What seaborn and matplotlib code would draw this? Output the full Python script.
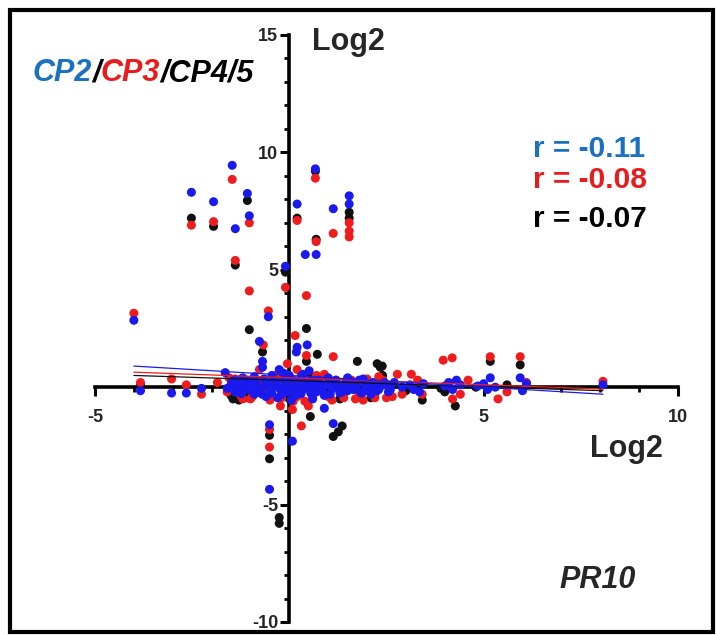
import pandas as pd
import seaborn as sns
import matplotlib.pyplot as plt
from matplotlib.patches import Rectangle
from matplotlib.ticker import MultipleLocator, FixedLocator

# CP2 (blue) log2 values
cp2_x = [-4.0, -3.83, -3.03, -2.65, -2.26, -1.65,
         -2.52, -1.95, -1.47, -1.39, -1.08, -1.03, -0.1, 0.2, 0.67, 0.41, 0.69, 1.13, 1.54, 1.54,
         -0.54, -0.77, 0.2, 0.18, 0.46, -0.69, -0.69, -0.26, 0.51,
         -0.51, -0.51, 0.08, 0.9, 1.13,
         2.5, 2.6, 2.7, 2.9, 3.1, 3.2, 3.35, 3.45, 4.0, 4.1, 4.2, 4.3, 4.4,
         4.85, 5.0, 5.1, 5.17, 5.3, 5.94, 6.1, 6.0, 8.07,
         -1.5, -1.4, -1.3, -1.2, -1.1, -1.0, -0.9, -0.85, -0.75, -0.65, -0.55, -0.45,
         -0.35, -0.25, -0.15, -0.05, 0.05, 0.15, 0.25, 0.35, 0.45, 0.55, 0.65, 0.75,
         0.85, 0.95, 1.05, 1.15, 1.25, 1.35, 1.45, 1.55, 1.65, 1.75, 1.85, 1.95,
         2.05, 2.15, 2.25, 2.35, -0.3, 0.3, -1.2, 1.0, 0.0, -0.6,
         -1.6, -1.48, -1.36, -1.24, -1.12, -1.02, -0.92, -0.8, -0.7, -0.6, -0.5, -0.4,
         -0.3, -0.2, -0.1, 0.0, 0.1, 0.2, 0.3, 0.4, 0.5, 0.6, 0.7, 0.8, 0.9, 1.0,
         1.1, 1.2, 1.3, 1.4, 1.5, 1.6, 1.7, 1.8, 1.9, 2.0, 2.1, 2.2, 2.3, 2.45, 2.55,
         -0.15, 0.35, -0.9, 0.6, 1.5, -1.4, 0.05, -0.45, 1.9]
cp2_y = [2.85, -0.15, -0.25, -0.25, -0.05, 0.62,
         8.3, 7.9, 9.45, 6.75, 8.25, 7.3, 5.15, 7.8, 9.3, 5.65, 5.65, 7.6, 8.15, 7.8,
         3.0, 1.95, 1.7, 1.5, 1.8, 1.1, 0.85, 0.75, 0.7,
         -1.6, -4.35, -2.3, -0.9, -1.55,
         0.1, -0.1, 0.2, 0.0, 0.1, -0.1, -0.2, 0.15, 0.05, 0.2, -0.1, 0.3, 0.1,
         0.05, 0.15, -0.1, 0.4, 0.0, 0.4, 0.15, -0.15, 0.1,
         0.1, -0.2, 0.2, -0.1, 0.3, 0.0, -0.3, 0.15, -0.1, 0.35, 0.05, -0.25,
         0.2, -0.05, 0.3, -0.2, 0.1, -0.35, 0.25, -0.1, 0.15, -0.25, 0.05, 0.3,
         -0.15, 0.1, -0.3, 0.2, 0.0, -0.2, 0.25, 0.05, -0.1, 0.15, -0.25, 0.1,
         -0.05, 0.2, -0.15, 0.05, -0.45, 0.45, 0.4, 0.4, 0.5, -0.4,
         -0.05, 0.22, 0.02, -0.28, 0.12, -0.12, 0.25, -0.02, -0.3, 0.18, -0.08, 0.28,
         0.02, -0.32, 0.15, -0.1, 0.3, 0.0, -0.28, 0.2, -0.05, 0.25, -0.2, 0.05, -0.35, 0.18,
         -0.08, 0.3, -0.25, 0.08, -0.15, 0.22, -0.02, 0.3, -0.2, 0.05, -0.3, 0.15, -0.1, 0.2, -0.2,
         0.6, 0.55, 0.45, -0.5, 0.4, 0.35, -0.55, 0.5, 0.35]

# CP3 (red)
cp3_x = [-4.0, -3.83, -3.03, -2.65, -2.26, -1.85,
         -2.52, -1.95, -1.47, -1.39, -1.03, -1.03, -0.1, 0.2, 0.67, 0.69, 1.13, 1.54, 1.54, 1.54,
         0.44, -0.54, 0.15, -0.67, 0.44, 1.13, -0.77, -0.05, 0.2,
         -0.23, 0.08, 0.49, 0.31, -0.51, -0.51,
         2.78, 3.14, 3.96, 4.19, 5.17, 5.94, 2.65, 3.42, 4.2, 4.4, 5.37, 6.1, 8.07,
         -1.6, -1.4, -1.25, -1.1, -0.95, -0.8, -0.6, -0.4, -0.2, 0.0, 0.2, 0.4,
         0.6, 0.8, 1.0, 1.2, 1.4, 1.6, 1.8, 2.0, 2.2, 2.4, 2.9, 3.3, 4.6, 5.6,
         -1.55, -1.0, -0.5, 0.1, 0.7, 1.1, 1.7, 2.3, -0.3, 0.9, 1.9, 2.5, -1.2, 0.4]
cp3_y = [3.15, 0.2, 0.35, 0.1, -0.3, 0.2,
         6.9, 7.05, 8.85, 5.4, 7.0, 4.1, 4.25, 7.1, 8.9, 6.2, 6.55, 7.0, 6.65, 6.4,
         3.9, 3.25, 2.2, 1.8, 1.35, 1.3, 0.75, 1.0, 0.75,
         -0.8, -0.95, -0.8, -1.65, -1.8, -2.55,
         0.55, 0.55, 1.15, 1.25, 1.3, 1.3, -0.4, -0.3, -0.5, -0.3, -0.5, 0.2, 0.25,
         -0.2, 0.3, -0.35, 0.15, -0.4, 0.25, -0.3, 0.4, -0.45, 0.35, -0.4, 0.3,
         -0.45, 0.35, -0.4, 0.3, -0.45, 0.3, -0.4, 0.35, -0.45, 0.3, -0.3, 0.3, 0.3, -0.2,
         0.4, -0.5, -0.55, -0.6, 0.5, -0.55, -0.5, 0.45, 0.55, 0.55, -0.55, -0.45, -0.5, -0.6]

# CP4/5 (black)
cp45_x = [-3.83,
          -2.52, -1.95, -1.39, -1.08, -0.1, 0.2, 0.67, 0.69, 1.54, 1.54,
          -1.03, 0.44, -0.69, 0.72, 0.44, 1.75, 2.26, 2.34, 2.39,
          0.54, 1.13, 1.26, 1.36, -0.51, -0.51, -0.26, -0.26,
          5.17, 5.94, 3.42, 4.0, 4.27,
          -1.5, -1.35, -1.2, -1.0, -0.8, -0.6, -0.4, -0.2, 0.0, 0.2, 0.4, 0.6,
          0.8, 1.0, 1.2, 1.4, 1.6, 1.8, 2.0, 2.2, 2.6, 3.0, 3.9, 4.8, 5.6, -0.3,
          -1.45, -1.3, -1.1, 0.0, 1.3, 2.1, 0.5, 2.4]
cp45_y = [0.1,
          7.2, 6.85, 5.2, 7.95, 4.9, 7.2, 9.2, 6.3, 7.45, 7.2,
          2.45, 2.5, 1.5, 1.4, 1.1, 1.1, 1.0, 0.85, 0.9,
          -1.25, -2.1, -1.9, -1.65, -2.05, -3.05, -5.55, -5.8,
          1.1, 0.95, -0.55, -0.2, -0.8,
          -0.35, -0.45, 0.1, -0.2, 0.2, -0.1, 0.15, -0.3, 0.2, -0.15, 0.1, -0.3,
          0.15, -0.1, 0.2, -0.25, 0.05, -0.2, 0.15, -0.3, 0.05, -0.15, -0.05, 0.0, 0.1, 0.45,
          -0.5, -0.55, -0.45, -0.5, -0.5, -0.45, 0.5, 0.5]

# linear fit lines (x end points, y at those ends)
fit_x = [-4.0, 8.07]
fit_cp2 = [0.9, -0.3]
fit_cp3 = [0.64, -0.08]
fit_cp45 = [0.5, -0.15]

r_labels = ["r = -0.11", "r = -0.08", "r = -0.07"]

dot_colors = {"CP4/5": "#111111", "CP3": "#ee1c1c", "CP2": "#1a1aee"}

df = pd.concat([
    pd.DataFrame({"x": cp45_x, "y": cp45_y, "series": "CP4/5"}),
    pd.DataFrame({"x": cp3_x, "y": cp3_y, "series": "CP3"}),
    pd.DataFrame({"x": cp2_x, "y": cp2_y, "series": "CP2"}),
], ignore_index=True)

fits = pd.concat([
    pd.DataFrame({"x": fit_x, "y": fit_cp45, "series": "CP4/5"}),
    pd.DataFrame({"x": fit_x, "y": fit_cp3, "series": "CP3"}),
    pd.DataFrame({"x": fit_x, "y": fit_cp2, "series": "CP2"}),
], ignore_index=True)

sns.set_style("white")
plt.rcParams["font.family"] = ["Liberation Sans", "DejaVu Sans"]
plt.rcParams["axes.unicode_minus"] = False

fig = plt.figure(figsize=(7.16, 6.35), dpi=100)
ax = fig.add_axes([0.1327, 0.0205, 0.8142, 0.9244])

sns.scatterplot(data=df, x="x", y="y", hue="series", palette=dot_colors,
                s=42, linewidth=0, legend=False, ax=ax, zorder=3)
sns.lineplot(data=fits, x="x", y="y", hue="series", palette=dot_colors,
             lw=0.9, legend=False, ax=ax, zorder=4)

ax.set_xlim(-5, 10)
ax.set_ylim(-10, 15)
ax.set_xlabel("")
ax.set_ylabel("")

for side in ["top", "right"]:
    ax.spines[side].set_visible(False)
ax.spines["left"].set_position(("data", 0))
ax.spines["bottom"].set_position(("data", 0))
for side in ["left", "bottom"]:
    ax.spines[side].set_linewidth(2.6)
    ax.spines[side].set_color("black")
    ax.spines[side].set_zorder(2)

ax.xaxis.set_major_locator(FixedLocator([-5, 5, 10]))
ax.yaxis.set_major_locator(FixedLocator([-10, -5, 5, 10, 15]))
ax.xaxis.set_minor_locator(MultipleLocator(1))
ax.yaxis.set_minor_locator(MultipleLocator(1))
ax.tick_params(which="major", direction="out", length=6.5, width=2.2, color="black",
               labelsize=13)
ax.tick_params(which="minor", direction="out", length=3.5, width=2.0, color="black")
ax.tick_params(axis="x", which="both", bottom=True, pad=9)
ax.tick_params(axis="y", which="both", left=True, pad=1.5)
for lab in ax.get_xticklabels() + ax.get_yticklabels():
    lab.set_fontweight("bold")

fig.text(0.4358, 0.921, "Log2", fontsize=22, fontweight="bold", va="baseline")
fig.text(0.824, 0.2803, "Log2", fontsize=22, fontweight="bold", va="baseline")

# multi-coloured series legend
renderer = fig.canvas.get_renderer()
x0 = 0.046
for piece, col in [("CP2", "#1c70c0"), ("/", "black"), ("CP3", "#e81c1c"), ("/CP4/5", "black")]:
    t = fig.text(x0, 0.8724, piece, color=col, fontsize=22, fontweight="bold",
                 fontstyle="italic", va="baseline")
    x0 += t.get_window_extent(renderer).width / fig.bbox.width

r_colors = ["#1c70c0", "#e81c1c", "black"]
r_y = [0.7528, 0.7039, 0.6425]
for lab, col, yy in zip(r_labels, r_colors, r_y):
    fig.text(0.744, yy, lab, color=col, fontsize=21.5, fontweight="bold", va="baseline")

fig.text(0.782, 0.074, "PR10", fontsize=22, fontweight="bold", fontstyle="italic",
         va="baseline")

fig.add_artist(Rectangle((0.014, 0.005), 0.9815, 0.979, transform=fig.transFigure,
                         fill=False, lw=3, edgecolor="black"))

fig.savefig("out.png", dpi=100)
